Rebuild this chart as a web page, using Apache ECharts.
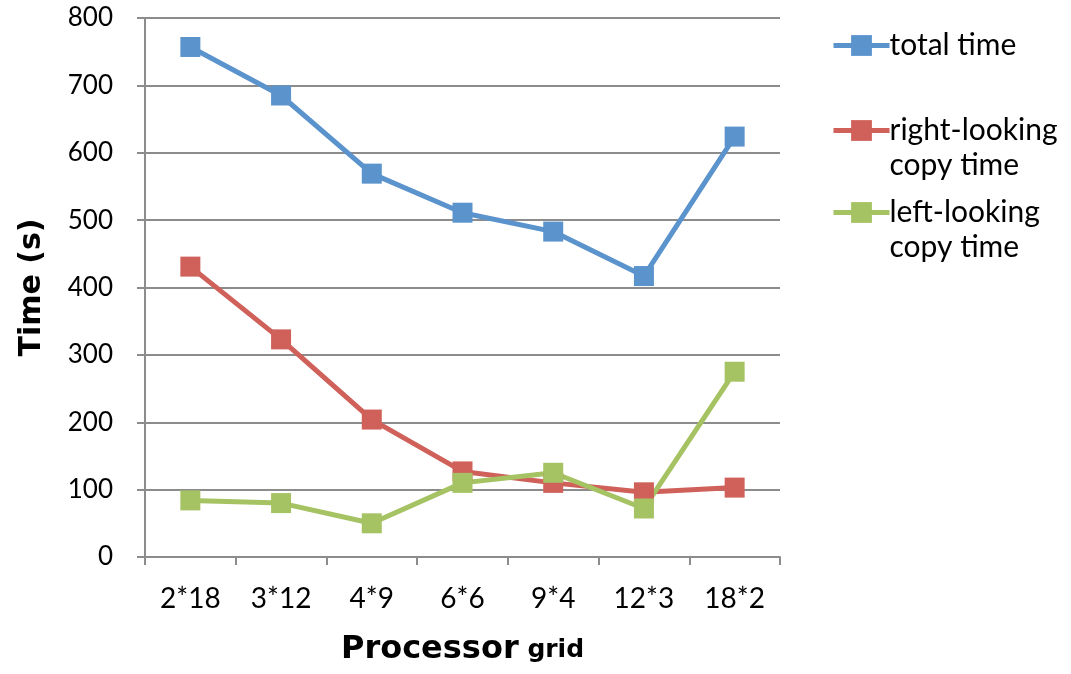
<!DOCTYPE html>
<html><head><meta charset="utf-8">
<script src="https://cdn.jsdelivr.net/npm/echarts@6/dist/echarts.min.js"></script>
<style>html,body{margin:0;padding:0;background:#fff}#c{width:1071px;height:674px}</style>
</head><body><div id="c"></div>
<script>
const categories = ['2*18','3*12','4*9','6*6','9*4','12*3','18*2'];
const totalTime = [757, 685, 569, 511, 483, 417, 624];
const rightLooking = [431, 323, 204, 127, 110, 96, 103];
const leftLooking = [84, 80, 50, 110, 125, 72, 275];
const yTicks = {min: 0, max: 800, interval: 100};

const FONT = 'Lato';
const TFONT = 'DejaVu Sans';
const colors = ['#5B93CD', '#CF615A', '#A6C364'];
const chart = echarts.init(document.getElementById('c'));
function mkLegend(name, top, twoLine) {
  return {
    data: [name], left: 826, top: top, orient: 'vertical',
    itemWidth: 56, itemHeight: 26, itemGap: 0,
    lineStyle: {width: 5},
    formatter: twoLine ? (n => ' \n' + n.replace(' copy', '\ncopy')) : undefined,
    textStyle: {fontFamily: FONT, fontSize: 30, color: '#000', lineHeight: 35,
      padding: [0, 0, 0, -5]}
  };
}
function mkSeries(name, data, color) {
  return {name, type: 'line', data, symbol: 'rect', symbolSize: 20,
    lineStyle: {width: 5, color}, itemStyle: {color}, color};
}
chart.setOption({
  animation: false,
  textStyle: {fontFamily: FONT},
  grid: {left: 145, right: 291, top: 18, bottom: 117, containLabel: false, outerBoundsMode: 'none'},
  legend: [
    mkLegend('total time', 23, false),
    mkLegend('right-looking copy time', 73, true),
    mkLegend('left-looking copy time', 155, true)
  ],
  xAxis: {
    type: 'category', data: categories, boundaryGap: true,
    axisLine: {lineStyle: {color: '#8c8c8c', width: 2}},
    axisTick: {show: true, length: 8, lineStyle: {color: '#8c8c8c', width: 2}},
    axisLabel: {fontSize: 28, color: '#000', margin: 28, fontFamily: FONT},
    name: '{a|Processor}{b| grid}', nameLocation: 'middle', nameGap: 77,
    nameTextStyle: {rich: {
      a: {fontSize: 32, fontWeight: 'bold', color: '#000', fontFamily: TFONT},
      b: {fontSize: 25, fontWeight: 'bold', color: '#000', fontFamily: TFONT}
    }}
  },
  yAxis: {
    type: 'value', min: yTicks.min, max: yTicks.max, interval: yTicks.interval,
    axisLine: {show: true, lineStyle: {color: '#8c8c8c', width: 2}},
    axisTick: {show: true, length: 8, lineStyle: {color: '#8c8c8c', width: 2}},
    splitLine: {lineStyle: {color: '#8c8c8c', width: 2}},
    axisLabel: {fontSize: 26, color: '#000', margin: 32, fontFamily: FONT},
    name: 'Time (s)', nameLocation: 'middle', nameGap: 98,
    nameTextStyle: {fontSize: 30, fontWeight: 'bold', color: '#000', fontFamily: TFONT}
  },
  series: [
    mkSeries('total time', totalTime, colors[0]),
    mkSeries('right-looking copy time', rightLooking, colors[1]),
    mkSeries('left-looking copy time', leftLooking, colors[2])
  ]
});
</script></body></html>
